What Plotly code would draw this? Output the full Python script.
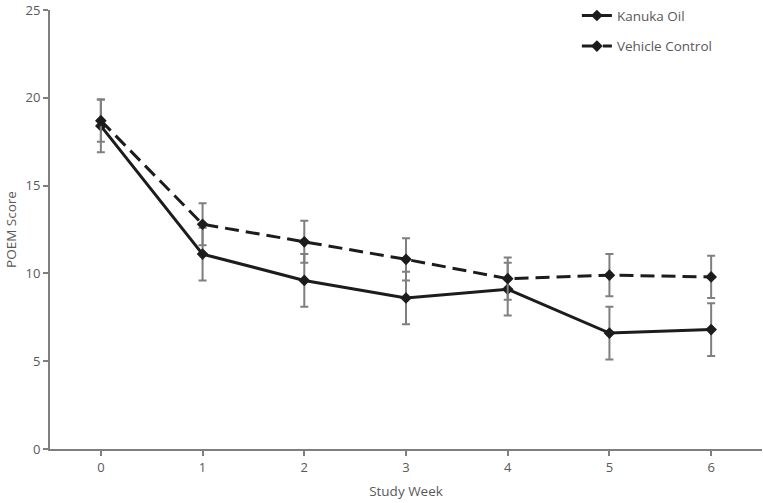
import plotly.graph_objects as go

weeks = [0, 1, 2, 3, 4, 5, 6]
kanuka = [18.4, 11.1, 9.6, 8.6, 9.1, 6.6, 6.8]
kanuka_err = [1.5, 1.5, 1.5, 1.5, 1.5, 1.5, 1.5]
vehicle = [18.7, 12.8, 11.8, 10.8, 9.7, 9.9, 9.8]
vehicle_err = [1.2, 1.2, 1.2, 1.2, 1.2, 1.2, 1.2]
y_ticks = [0, 5, 10, 15, 20, 25]

gray = "#7f7f7f"
txt = "#595959"
line_col = "#1c1c1c"

fig = go.Figure()
fig.add_trace(go.Scatter(
    x=weeks, y=kanuka, name="Kanuka Oil", mode="lines+markers",
    line=dict(color=line_col, width=3),
    marker=dict(symbol="diamond", size=9, color=line_col),
    error_y=dict(type="data", array=kanuka_err, color=gray, thickness=2, width=4),
    legendgroup="a",
))
fig.add_trace(go.Scatter(
    x=weeks, y=vehicle, name="Vehicle Control", mode="lines+markers",
    line=dict(color=line_col, width=3, dash="14px,7px"),
    marker=dict(symbol="diamond", size=9, color=line_col),
    error_y=dict(type="data", array=vehicle_err, color=gray, thickness=2, width=4),
    legendgroup="b",
))

fig.update_layout(
    width=763, height=503,
    margin=dict(l=50, r=1, t=9, b=54),
    paper_bgcolor="white", plot_bgcolor="white",
    font=dict(family="Open Sans", size=13, color=txt),
    showlegend=True,
    legend=dict(x=0.74, y=1.02, xanchor="left", yanchor="top",
                tracegroupgap=10, font=dict(size=13.5, color=txt),
                bgcolor="rgba(0,0,0,0)"),
    xaxis=dict(range=[-0.5, 6.5], tickvals=weeks, showgrid=False, zeroline=False,
               showline=True, linecolor=gray, linewidth=2, automargin=False,
               ticks="outside", ticklen=5, tickcolor=gray, tickwidth=2,
               ticklabeloverflow="allow",
               title=dict(text="Study Week", font=dict(size=13.5, color=txt), standoff=12)),
    yaxis=dict(range=[0, 25], tickvals=y_ticks, showgrid=False, zeroline=False,
               showline=True, linecolor=gray, linewidth=2, automargin=False,
               ticks="outside", ticklen=5, tickcolor=gray, tickwidth=2,
               ticklabeloverflow="allow",
               title=dict(text="POEM Score", font=dict(size=13.5, color=txt), standoff=6)),
)

fig.write_html("out.html", config={"displayModeBar": False},
               post_script="document.body.style.margin='0';")
